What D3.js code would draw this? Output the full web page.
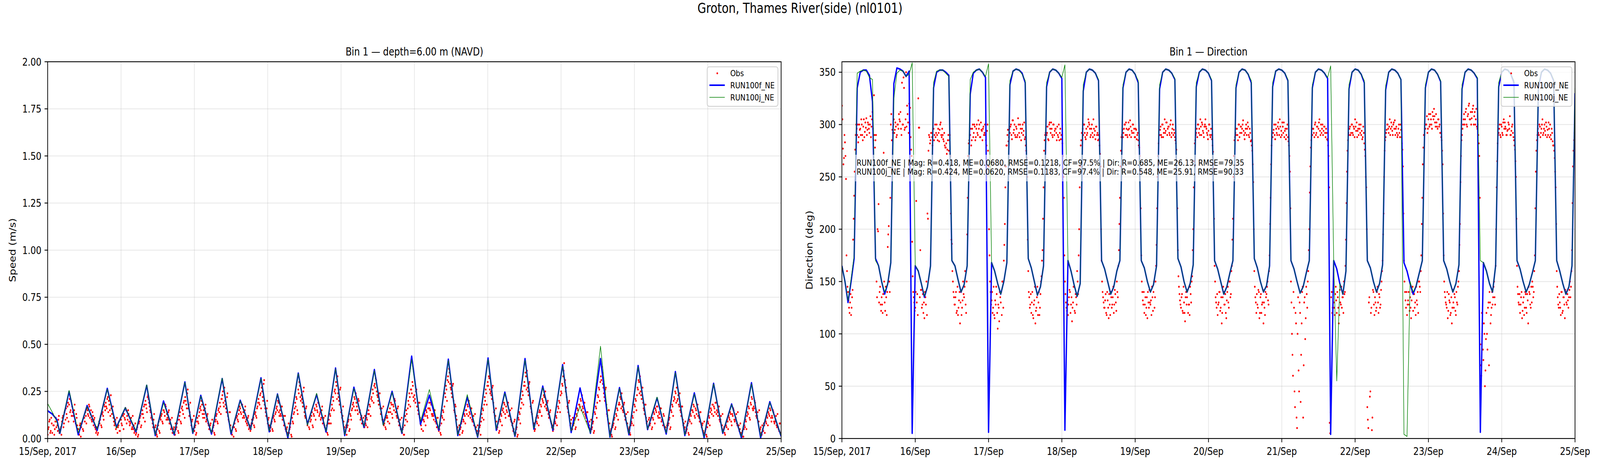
<!DOCTYPE html>
<html><head><meta charset="utf-8">
<script src="https://cdn.jsdelivr.net/npm/d3@7"></script>
<style>html,body{margin:0;padding:0;overflow:hidden;background:#fff}svg{display:block;width:100vw;height:100vh}text{font-family:"DejaVu Sans",sans-serif;fill:#000}</style>
</head><body>
<svg id="chart" viewBox="0 0 5000 1200" preserveAspectRatio="none"></svg>
<script>
const figTitle = "Groton, Thames River(side) (nl0101)";
const panelTitles = ["Bin 1 — depth=6.00 m (NAVD)", "Bin 1 — Direction"];
const yLabels = ["Speed (m/s)", "Direction (deg)"];
const seriesNames = ["Obs", "RUN100f_NE", "RUN100j_NE"];
const dayTickLabels = ["15/Sep, 2017","16/Sep","17/Sep","18/Sep","19/Sep","20/Sep","21/Sep","22/Sep","23/Sep","24/Sep","25/Sep"];
const speedTicks = [0,0.25,0.5,0.75,1,1.25,1.5,1.75,2];
const dirTicks = [0,50,100,150,200,250,300,350];
const statsLines = [
  "RUN100f_NE | Mag: R=0.418, ME=0.0680, RMSE=0.1218, CF=97.5% | Dir: R=0.685, ME=26.13, RMSE=79.35",
  "RUN100j_NE | Mag: R=0.424, ME=0.0620, RMSE=0.1183, CF=97.4% | Dir: R=0.548, ME=25.91, RMSE=90.33"
];

// model speed polyline vertices (hours since 15 Sep 00:00)
const speedHours = [0,1.5,3,4,7,10,12.9,16.2,19.5,22.5,25.4,28.9,32.4,35.2,37.9,41.4,44.9,47.5,50.1,53.6,
  57.1,60,63,66.4,69.8,72.5,75.2,78.6,82,85,88,91.1,94.2,97.2,100.2,103.5,106.9,109.8,112.7,115.9,
  119.1,122,124.9,128,131.1,134.2,137.3,140.7,144.1,146.8,149.6,152.9,156.2,159.1,162,165.3,168.5,171.3,174.2,177.6,
  180.9,184,187.1,190.2,193.2,196.3,199.4,202.4,205.4,208.5,211.6,214.8,217.9,220.9,223.8,227,230.3,233.3,236.3,240];
const speedF = [0.147,0.13,0.10,0.028,0.25,0.02,0.175,0.044,0.266,0.06,0.163,0.036,0.282,0.016,0.199,0.02,0.30,0.028,0.229,0.024,
  0.318,0.024,0.203,0.05,0.322,0.036,0.236,0.004,0.347,0.075,0.234,0.035,0.374,0.016,0.272,0.06,0.366,0.075,0.25,0.028,
  0.437,0.075,0.23,0.044,0.421,0.016,0.22,0.008,0.427,0.044,0.246,0.012,0.424,0.05,0.278,0.044,0.392,0.032,0.268,0.028,
  0.424,0.008,0.27,0.02,0.387,0.048,0.216,0.024,0.355,0.016,0.242,0.004,0.293,0.028,0.183,0.004,0.296,0.004,0.195,0.012];
const speedJ = [0.185,0.14,0.09,0.03,0.255,0.03,0.17,0.05,0.262,0.055,0.165,0.04,0.285,0.02,0.19,0.025,0.298,0.03,0.225,0.03,
  0.32,0.03,0.2,0.05,0.318,0.04,0.235,0.01,0.345,0.07,0.24,0.04,0.37,0.02,0.265,0.065,0.36,0.07,0.245,0.03,
  0.42,0.09,0.26,0.05,0.415,0.02,0.233,0.01,0.42,0.05,0.24,0.015,0.415,0.055,0.27,0.05,0.385,0.04,0.17,0.03,
  0.49,0.01,0.265,0.025,0.38,0.05,0.22,0.03,0.35,0.02,0.235,0.01,0.29,0.03,0.18,0.01,0.29,0.01,0.19,0.015];

// observed speed, every 20 minutes from 15 Sep 00:00
const obsSpeedA = [
.02,.06,.10,.04,.08,.13,.07,.05,.11,.09,.04,.12,.03,.06,.09,.12,.08,.15,.16,.11,.19,.18,.14,.20,.17,.12,.15,.10,.13,.07,
.05,.02,.08,.06,.09,.04,.11,.14,.08,.15,.12,.17,.13,.10,.14,.07,.11,.05,.04,.02,.07,.08,.12,.06,.14,.10,.17,.19,.16,.22,
.20,.15,.23,.13,.17,.09,.08,.05,.11,.06,.09,.04,.10,.07,.12,.13,.10,.15,.12,.15,.09,.08,.11,.06,.05,.03,.08,.03,.06,.02,
.09,.12,.07,.15,.11,.18,.20,.16,.22,.21,.17,.14,.12,.08,.10,.04,.07,.02,.05,.09,.03,.10,.13,.08,.15,.12,.17,.13,.10,.15,
.08,.05,.11,.03,.06,.02,.05,.08,.04,.10,.14,.08,.17,.13,.20,.22,.18,.24,.16,.12,.19,.07,.10,.05,.04,.07,.03,.11,.08,.14,
.17,.20,.13,.15,.11,.18,.10,.13,.07,.05,.08,.03,.04,.07,.02,.10,.13,.08,.16,.19,.13,.21,.25,.17,.20,.16,.22,.12,.09,.14,
.04,.02,.06,.06,.10,.04,.12,.09,.15,.16,.13,.18,.14,.11,.17,.10,.07,.12,.06,.04,.08,.08,.11,.06,.14,.11,.17,.21,.18,.24,
.27,.22,.29,.18,.14,.16,.08,.11,.06,.06,.09,.04,.12,.09,.14,.17,.20,.14,.15,.12,.17,.10,.07,.12,.04,.06,.02,.03,.06,.02,
.11,.08,.14,.19,.22,.15,.26,.30,.22,.23,.19,.25,.14,.11,.17,.07,.09,.05,.09,.12,.07,.13,.16,.10,.17,.14,.19,.13,.10,.15,
.08,.11,.06,.04,.07,.02,.10,.13,.08,.18,.22,.15,.26,.30,.21,.24,.20,.26,.14,.11,.17,.05,.03,.07,.06,.09,.04,.13,.10,.16,
.19,.22,.15,.19,.15,.21,.14,.10,.12,.08,.11,.06,.08,.11,.06,.15,.18,.12,.22,.26,.19,.29,.32,.25,.22,.18,.24,.13,.16,.10,
.07,.10,.05,.12,.09,.14,.16,.19,.13,.18,.15,.20,.14,.11,.17,.07,.10,.05,.03,.06,.02,.12,.15,.09,.20,.24,.17,.26,.30,.22,
.23,.19,.26,.17,.13,.19,.08,.05,.10,.10,.13,.07,.14,.11,.16,.16,.19,.13,.13,.10,.15,.09,.06,.11,.04,.07,.02,.12,.15,.10,
.24,.28,.20,.33,.37,.29,.26,.22,.29,.15,.18,.12,.05,.03,.07,.05,.08,.03,.10,.13,.08,.15,.18,.12,.14,.11,.16,.09,.12,.07,
.05,.03,.07,.03,.06,.02,.13,.16,.10,.22,.26,.18,.30,.33,.26,.25,.21,.28,.14,.11,.16,.05,.08,.03,.10,.13,.07,.16,.19,.13,
.17,.14,.19,.12,.15,.09,.07,.04,.09,.02,.05,.01,.11,.14,.08,.21,.25,.18,.30,.35,.26,.27,.23,.30,.17,.14,.19,.07,.04,.09,
.09,.12,.07,.15,.18,.12,.20,.23,.17,.18,.15,.20,.11,.14,.09,.06,.04,.08,.09,.12,.07,.17,.20,.14,.25,.29,.33,.40,.31,.27,
.17,.14,.20,.07,.10,.05,.07,.10,.05,.13,.16,.10,.18,.21,.15,.17,.14,.19,.12,.09,.14,.06,.09,.04,.05,.08,.03,.14,.17,.11,
.23,.27,.20,.33,.38,.29,.24,.20,.27,.13,.10,.15,.03,.05,.01,.07,.10,.05,.13,.16,.10,.19,.22,.16,.17,.14,.19,.10,.13,.08,
.04,.06,.02,.09,.12,.07,.18,.21,.15,.27,.31,.24,.25,.21,.27,.16,.13,.18,.08,.05,.10,.07,.10,.05,.11,.14,.08,.15,.17,.12,
.14,.11,.16,.10,.07,.12,.05,.03,.07,.07,.10,.05,.15,.18,.12,.22,.25,.19,.20,.23,.17,.15,.12,.17,.07,.05,.09,.04,.07,.03,
.10,.13,.08,.15,.18,.12,.16,.13,.18,.12,.09,.14,.06,.08,.03,.03,.05,.01,.09,.12,.07,.16,.13,.18,.17,.14,.19,.15,.12,.17,
.09,.12,.07,.04,.06,.02,.07,.10,.05,.11,.14,.09,.13,.16,.10,.10,.13,.07,.06,.04,.08,.02,.04,.01,.07,.10,.05,.14,.17,.11,
.19,.22,.16,.17,.20,.14,.11,.14,.09,.04,.06,.02,.05,.08,.03,.09,.12,.07,.13,.16,.11,.12,.15,.09,.09,.12,.06,.06,.04,.08];
// observed speed, every 20 minutes from 15 Sep 00:10
const obsSpeedB = [
.05,.09,.03,.11,.03,.07,.02,.09,.06,.07,.10,.03,.05,.02,.11,.06,.14,.10,.13,.17,.09,.21,.15,.12,.14,.09,.18,.08,.11,.05,
.03,.07,.01,.08,.05,.11,.09,.12,.16,.13,.18,.11,.15,.09,.12,.10,.06,.03,.06,.03,.09,.10,.07,.13,.12,.18,.15,.17,.21,.14,
.18,.12,.16,.15,.11,.07,.10,.06,.03,.07,.04,.10,.08,.13,.05,.11,.16,.08,.10,.13,.07,.09,.05,.12,.07,.04,.02,.05,.01,.08,
.11,.06,.13,.13,.17,.09,.18,.14,.23,.19,.15,.11,.10,.06,.13,.06,.03,.01,.07,.04,.11,.12,.09,.15,.14,.18,.10,.11,.14,.08,
.10,.06,.03,.05,.02,.08,.06,.10,.03,.12,.09,.16,.15,.19,.11,.20,.16,.26,.18,.14,.10,.09,.05,.12,.06,.02,.09,.09,.12,.16,
.15,.18,.11,.13,.16,.09,.12,.08,.05,.07,.04,.10,.06,.03,.09,.12,.09,.15,.14,.17,.21,.23,.19,.27,.18,.14,.24,.10,.14,.07,
.03,.06,.01,.08,.05,.11,.10,.13,.17,.14,.18,.11,.12,.15,.09,.08,.11,.05,.07,.05,.10,.10,.07,.13,.12,.16,.19,.19,.23,.16,
.25,.20,.31,.16,.12,.20,.10,.07,.04,.08,.05,.11,.10,.13,.16,.15,.19,.12,.13,.17,.10,.12,.08,.05,.05,.03,.08,.05,.08,.01,
.09,.13,.16,.17,.21,.13,.24,.28,.20,.21,.17,.27,.12,.16,.09,.09,.06,.11,.10,.14,.06,.12,.15,.18,.15,.19,.12,.14,.11,.17,
.10,.07,.12,.05,.03,.08,.08,.12,.15,.16,.20,.25,.24,.28,.33,.22,.18,.27,.15,.12,.09,.06,.04,.02,.07,.10,.05,.12,.15,.18,
.17,.21,.24,.17,.13,.20,.15,.11,.08,.09,.06,.12,.07,.10,.13,.13,.17,.21,.20,.24,.28,.27,.31,.23,.20,.24,.16,.14,.10,.17,
.08,.06,.11,.11,.14,.08,.14,.18,.11,.17,.21,.14,.12,.16,.09,.08,.05,.11,.05,.02,.07,.10,.13,.16,.18,.22,.26,.24,.28,.20,
.21,.25,.17,.15,.19,.11,.07,.10,.04,.09,.12,.15,.12,.16,.19,.15,.18,.12,.12,.15,.09,.08,.11,.05,.05,.03,.08,.11,.14,.17,
.22,.26,.31,.30,.35,.27,.24,.28,.20,.14,.17,.10,.06,.04,.02,.06,.09,.04,.09,.12,.15,.13,.17,.20,.13,.16,.10,.10,.07,.13,
.06,.04,.02,.04,.07,.09,.11,.15,.18,.20,.24,.28,.28,.32,.24,.23,.27,.19,.15,.12,.09,.06,.09,.04,.09,.12,.15,.14,.18,.11,
.15,.18,.12,.13,.10,.16,.08,.05,.10,.03,.06,.02,.10,.13,.16,.19,.23,.28,.28,.33,.36,.25,.29,.21,.16,.13,.20,.08,.05,.11,
.08,.11,.14,.14,.17,.21,.19,.22,.25,.16,.19,.13,.12,.15,.08,.07,.05,.10,.08,.11,.14,.16,.19,.23,.24,.28,.36,.30,.25,.22,
.16,.19,.12,.08,.05,.11,.08,.11,.06,.12,.15,.18,.17,.20,.23,.16,.19,.13,.11,.14,.08,.07,.05,.10,.06,.09,.04,.13,.16,.19,
.22,.26,.30,.31,.35,.27,.22,.26,.18,.12,.15,.08,.04,.02,.06,.08,.11,.06,.12,.15,.18,.18,.21,.24,.15,.18,.12,.11,.08,.14,
.05,.03,.07,.08,.11,.14,.17,.20,.23,.26,.30,.33,.23,.27,.19,.15,.18,.11,.09,.06,.11,.08,.11,.06,.10,.13,.16,.14,.17,.11,
.13,.16,.09,.10,.13,.06,.06,.04,.08,.08,.11,.06,.14,.17,.20,.21,.24,.27,.21,.18,.24,.14,.17,.10,.08,.06,.03,.05,.08,.02,
.09,.12,.15,.14,.17,.11,.15,.18,.12,.11,.14,.08,.07,.04,.09,.04,.02,.06,.08,.11,.14,.15,.18,.12,.16,.19,.13,.14,.17,.10,
.10,.07,.13,.05,.03,.07,.06,.09,.12,.10,.13,.07,.12,.15,.09,.11,.08,.14,.07,.05,.03,.03,.01,.05,.06,.09,.12,.13,.16,.10,
.18,.21,.15,.16,.19,.12,.12,.09,.15,.05,.03,.07,.04,.07,.10,.08,.11,.14,.12,.15,.09,.11,.14,.08,.10,.07,.13,.05,.08,.03];

// model direction, hourly from 15 Sep 00:00
const dirF = [165,150,130,150,172,335,350,352,352,347,
322,172,165,150,138,148,168,339,354,353,
351,346,351,5,165,160,148,135,145,165,
335,350,352,352,350,347,170,165,152,140,
147,165,329,349,352,353,350,345,6,168,
160,148,138,150,168,338,351,353,352,349,
340,172,163,150,137,145,165,336,350,353,
352,349,344,8,170,160,147,136,148,332,
350,353,352,349,342,170,162,150,138,145,
160,170,335,350,353,352,348,340,170,163,
150,140,147,165,334,350,353,352,349,343,
172,164,150,140,148,166,336,350,353,352,
349,342,170,162,150,138,145,158,170,335,
350,353,352,348,340,172,163,150,140,146,
165,336,351,353,352,349,342,170,162,150,
139,145,158,170,335,350,353,352,349,344,
4,170,162,148,138,160,334,350,353,352,
348,340,170,163,150,140,148,166,333,350,
353,352,349,343,168,160,148,138,146,158,
170,335,350,353,352,348,341,170,162,150,
140,148,166,334,350,353,352,349,344,6,
168,160,148,140,165,336,350,353,352,348,
340,170,162,150,140,147,158,170,335,350,
353,352,349,342,170,160,148,138,145,165,
330];
const dirJ = [165,150,132,152,175,349,351,352,351,345,
343,170,165,150,140,148,168,325,349,352,
351,346,348,359,165,160,148,136,145,165,
340,351,352,352,349,346,170,165,152,140,
147,165,343,350,352,353,350,346,358,168,
160,148,138,150,168,342,351,353,352,348,
342,172,163,150,137,145,165,340,350,353,
352,349,345,357,170,160,147,136,148,338,
350,353,352,349,343,170,162,150,138,145,
160,170,338,350,353,352,348,342,170,163,
150,140,147,165,338,350,353,352,349,344,
172,164,150,140,148,166,340,350,353,352,
349,343,170,162,150,138,145,158,170,338,
350,353,352,348,342,172,163,150,140,146,
165,340,351,353,352,349,343,170,162,150,
139,145,158,170,338,350,353,352,349,345,
356,168,55,148,138,160,338,350,353,352,
348,342,170,163,150,140,148,166,337,350,
353,352,349,343,4,2,150,140,146,158,
170,338,350,353,352,348,342,170,162,150,
140,148,166,338,350,353,352,349,345,170,
168,160,148,140,165,340,350,353,352,348,
342,170,162,150,140,147,158,170,338,350,
353,352,349,343,170,160,148,138,145,165,
335];

// observed direction, every 20 minutes from 15 Sep 00:00
const obsDirA = [
318,277,268,283,248,160,140,125,130,118,135,190,232,276,300,290,283,300,296,305,290,298,288,302,306,295,300,292,308,298,
312,285,290,285,150,200,224,140,128,135,120,273,130,145,118,183,203,140,300,285,292,305,295,298,290,300,310,303,296,340,
300,335,297,350,318,302,320,316,276,188,140,130,125,227,138,325,297,180,142,128,120,115,135,150,215,275,288,285,292,280,
296,290,288,300,285,292,295,302,288,290,284,280,278,272,285,275,290,215,186,150,135,128,140,122,118,132,110,140,125,150,
135,160,120,195,270,285,290,280,296,288,300,285,296,292,304,300,288,295,285,298,292,290,280,300,260,175,140,132,120,145,
115,128,138,105,125,140,130,118,150,170,205,260,280,295,288,292,300,286,304,295,290,298,288,306,292,300,285,296,290,302,
288,275,250,160,135,128,120,140,115,132,110,125,145,130,118,138,155,180,240,285,292,290,298,285,302,292,296,288,300,294,
296,285,290,300,292,286,290,270,230,150,130,122,118,135,140,128,112,130,145,120,135,160,138,200,260,285,292,290,300,288,
296,292,305,300,288,296,292,305,290,286,298,292,290,280,260,170,140,130,125,138,118,132,115,128,140,125,135,120,142,130,
150,135,180,230,275,290,288,296,300,302,290,295,296,304,288,292,300,296,288,295,290,285,278,255,175,140,128,120,135,125,
115,130,142,128,118,135,140,125,150,185,250,282,290,298,288,300,292,305,294,302,296,298,290,304,292,300,295,288,282,265,
180,145,132,125,138,120,130,112,140,135,120,128,145,130,155,200,265,285,292,288,300,296,305,290,300,292,298,305,296,290,
294,300,288,290,280,258,165,135,125,118,130,140,125,110,135,140,128,120,132,145,125,150,138,165,210,270,288,290,296,285,
300,292,298,296,304,290,292,300,296,298,288,292,285,275,245,160,135,120,128,142,115,135,120,130,110,125,140,138,150,128,
175,230,280,288,295,290,300,292,298,296,305,288,290,298,302,294,286,296,288,280,255,150,100,60,125,30,110,10,135,45,
120,80,140,20,130,95,145,125,160,200,260,285,290,296,288,302,292,298,296,305,290,292,300,294,298,288,292,285,270,15,
25,140,125,130,118,145,120,135,110,142,128,125,135,150,140,190,255,285,290,298,292,300,290,296,305,294,288,296,300,292,
290,286,298,282,270,240,30,10,135,45,125,20,140,118,130,125,145,120,135,128,150,170,215,275,288,295,300,292,305,296,
298,290,302,304,296,292,290,300,288,295,282,260,170,140,125,118,132,128,135,115,140,122,138,130,145,128,120,150,140,175,
230,278,290,296,300,292,305,298,310,300,312,305,308,298,302,296,305,300,292,285,262,175,140,130,125,115,138,130,120,110,
142,125,135,118,130,145,160,205,270,290,300,310,305,315,298,310,320,305,300,312,318,308,300,315,296,290,270,90,60,110,
75,100,65,120,85,130,140,110,125,128,145,135,165,240,282,292,300,288,298,290,305,302,296,290,295,300,308,290,298,292,
285,276,250,165,138,128,120,135,115,130,118,140,125,138,110,140,128,145,150,135,160,220,275,290,292,300,288,296,305,292,
300,290,298,295,302,288,290,296,284,280,268,240,160,135,125,130,118,140,122,135,115,140,128,132,135,150,145,180,260,285];
// observed direction, every 20 minutes from 15 Sep 00:10
const obsDirB = [
305,262,290,270,175,145,132,120,138,125,142,210,255,290,296,300,288,295,290,300,285,305,293,297,290,302,296,300,288,305,
296,328,278,290,135,198,130,145,122,128,138,150,122,135,140,195,150,230,310,295,300,292,302,288,300,296,305,312,290,300,
345,295,305,298,310,292,300,288,270,155,135,122,140,130,118,297,135,142,125,138,130,140,128,118,210,290,282,292,288,296,
285,300,292,290,296,284,300,290,296,286,292,278,282,276,290,285,270,190,160,140,128,135,120,145,125,140,130,118,132,138,
145,128,150,230,282,290,296,285,300,292,298,288,300,290,296,288,302,294,296,290,300,285,294,275,200,150,128,140,125,118,
132,145,120,128,112,135,140,150,125,185,240,280,290,284,296,298,290,304,292,300,288,296,290,300,288,296,292,300,294,286,
280,268,190,140,125,138,130,118,128,145,122,135,118,140,125,150,170,210,275,290,298,292,286,300,296,302,290,300,290,296,
292,298,288,285,296,290,282,250,175,138,125,132,128,142,120,135,125,145,122,138,128,150,175,240,280,292,296,300,292,286,
290,298,302,296,290,300,288,296,294,298,290,285,286,272,200,150,135,125,132,120,140,125,138,118,135,128,145,128,138,122,
140,165,205,260,288,295,292,300,290,296,288,302,290,298,294,300,292,288,296,286,292,280,270,220,150,132,140,128,118,135,
140,125,130,132,145,122,150,135,165,220,270,290,295,290,300,288,296,292,302,290,298,292,300,288,296,290,292,285,276,220,
155,138,128,135,122,145,120,135,128,142,128,118,138,150,180,240,282,290,296,300,292,290,298,302,294,288,300,298,292,286,
300,290,296,286,274,210,150,130,138,128,140,122,135,120,145,128,138,115,140,130,150,135,160,190,250,285,292,296,290,300,
288,298,292,300,294,286,296,290,302,290,296,284,280,262,200,145,130,138,125,140,120,138,128,142,130,118,135,145,132,160,
205,262,288,292,300,286,296,290,302,290,298,294,302,292,288,296,290,300,284,270,220,130,80,140,45,120,20,100,65,130,
35,110,145,70,135,115,138,150,180,235,278,290,296,292,300,290,298,288,302,294,300,296,290,298,292,296,286,280,240,5,
135,120,140,125,138,132,140,125,118,130,145,135,120,138,165,225,275,292,296,290,300,292,298,288,298,302,294,290,296,300,
294,288,292,276,250,200,18,130,40,120,8,142,128,135,122,140,130,138,125,142,160,195,250,285,292,300,296,298,290,302,
294,300,296,290,298,288,296,292,300,288,276,215,150,132,140,128,140,122,125,132,145,138,125,118,132,140,150,145,160,205,
262,290,296,300,308,296,310,300,305,296,308,315,302,310,298,305,298,292,288,275,215,150,135,128,140,122,132,118,135,125,
130,138,122,140,128,150,185,245,285,296,305,300,312,300,308,318,305,312,306,315,300,312,305,298,300,282,230,70,120,85,
110,50,95,100,125,70,130,118,140,135,150,128,200,265,290,296,290,300,292,302,296,298,290,294,302,296,290,294,300,288,
280,265,210,145,130,138,128,140,122,135,125,138,120,132,145,138,125,130,145,140,175,255,285,296,290,298,292,300,290,296,
294,302,288,290,296,300,286,292,280,275,255,205,145,128,138,125,140,120,135,128,142,130,138,125,142,135,160,225,275,292];

const T0 = Date.UTC(2017, 8, 15);
const HOUR = 3600e3;
const toDate = h => new Date(T0 + h * HOUR);

const svg = d3.select("#chart");
const yTop = 158, yBot = 1122;
const obsPoints = (a, b) => a.map((v, i) => [i / 3, v]).concat(b.map((v, i) => [i / 3 + 1 / 6, v]));
const panels = [
  {x0: 149, x1: 2441, yMax: 2, ticks: speedTicks, fmt: d3.format(".2f"), title: panelTitles[0], ylabel: yLabels[0], ylabX: 49,
   obs: obsPoints(obsSpeedA, obsSpeedB), mF: speedHours.map((h, i) => [h, speedF[i]]), mJ: speedHours.map((h, i) => [h, speedJ[i]])},
  {x0: 2631, x1: 4922, yMax: 360, ticks: dirTicks, fmt: d3.format("d"), title: panelTitles[1], ylabel: yLabels[1], ylabX: 2539,
   obs: obsPoints(obsDirA, obsDirB), mF: dirF.map((v, i) => [i, v]), mJ: dirJ.map((v, i) => [i, v])}
];

svg.append("text").attr("x", 2500).attr("y", 33).attr("text-anchor", "middle")
  .style("font-size", "35px").text(figTitle);

panels.forEach((p, pi) => {
  const x = d3.scaleUtc().domain([toDate(0), toDate(240)]).range([p.x0, p.x1]);
  const y = d3.scaleLinear().domain([0, p.yMax]).range([yBot, yTop]);
  const g = svg.append("g");
  const clipId = "clip" + pi;
  svg.append("clipPath").attr("id", clipId).append("rect")
    .attr("x", p.x0).attr("y", yTop).attr("width", p.x1 - p.x0).attr("height", yBot - yTop);

  const days = d3.utcDay.range(toDate(0), toDate(240.01));
  g.append("g").selectAll("line").data(days).join("line")
    .attr("x1", d => x(d)).attr("x2", d => x(d)).attr("y1", yTop).attr("y2", yBot)
    .attr("stroke", "#b0b0b0").attr("stroke-opacity", 0.3).attr("stroke-width", 2.2);
  g.append("g").selectAll("line").data(p.ticks).join("line")
    .attr("x1", p.x0).attr("x2", p.x1).attr("y1", d => y(d)).attr("y2", d => y(d))
    .attr("stroke", "#b0b0b0").attr("stroke-opacity", 0.3).attr("stroke-width", 2.2);

  const plot = g.append("g").attr("clip-path", `url(#${clipId})`);
  plot.append("g").selectAll("circle").data(p.obs).join("circle")
    .attr("cx", d => x(toDate(d[0]))).attr("cy", d => y(d[1])).attr("r", 2.6).attr("fill", "#ff0000");
  const line = d3.line().x(d => x(toDate(d[0]))).y(d => y(d[1]));
  plot.append("path").attr("d", line(p.mF)).attr("fill", "none").attr("stroke", "#0000ff")
    .attr("stroke-width", 4.2).attr("stroke-linejoin", "round");
  plot.append("path").attr("d", line(p.mJ)).attr("fill", "none").attr("stroke", "#008000")
    .attr("stroke-width", 1.7).attr("stroke-linejoin", "round");

  g.append("rect").attr("x", p.x0).attr("y", yTop).attr("width", p.x1 - p.x0).attr("height", yBot - yTop)
    .attr("fill", "none").attr("stroke", "#000").attr("stroke-width", 2.2);

  const xt = g.append("g").selectAll("g").data(days).join("g");
  xt.append("line").attr("x1", d => x(d)).attr("x2", d => x(d)).attr("y1", yBot).attr("y2", yBot + 9.7)
    .attr("stroke", "#000").attr("stroke-width", 2.2);
  xt.append("text").attr("x", d => x(d)).attr("y", 1164).attr("text-anchor", "middle")
    .style("font-size", "27px").text((d, i) => dayTickLabels[i]);
  const yt = g.append("g").selectAll("g").data(p.ticks).join("g");
  yt.append("line").attr("x1", p.x0 - 9.7).attr("x2", p.x0).attr("y1", d => y(d)).attr("y2", d => y(d))
    .attr("stroke", "#000").attr("stroke-width", 2.2);
  yt.append("text").attr("x", p.x0 - 19.4).attr("y", d => y(d)).attr("dy", "0.36em").attr("text-anchor", "end")
    .style("font-size", "27px").text(d => p.fmt(d));

  g.append("text").attr("x", (p.x0 + p.x1) / 2).attr("y", 142).attr("text-anchor", "middle")
    .style("font-size", "28px").text(p.title);
  g.append("text").attr("transform", `translate(${p.ylabX},${(yTop + yBot) / 2}) rotate(-90)`)
    .attr("text-anchor", "middle").style("font-size", "27px").text(p.ylabel);

  const lx = p.x1 - 231, ly = 171;
  const lg = g.append("g");
  lg.append("rect").attr("x", lx).attr("y", ly).attr("width", 221).attr("height", 101).attr("rx", 6)
    .attr("fill", "#fff").attr("fill-opacity", 0.8).attr("stroke", "#cccccc").attr("stroke-width", 2.2);
  lg.append("circle").attr("cx", lx + 31.5).attr("cy", ly + 16.5).attr("r", 2.6).attr("fill", "#ff0000");
  lg.append("line").attr("x1", lx + 7).attr("x2", lx + 55).attr("y1", ly + 47).attr("y2", ly + 47)
    .attr("stroke", "#0000ff").attr("stroke-width", 4.2);
  lg.append("line").attr("x1", lx + 7).attr("x2", lx + 55).attr("y1", ly + 78).attr("y2", ly + 78)
    .attr("stroke", "#008000").attr("stroke-width", 1.7);
  lg.selectAll("text").data(seriesNames).join("text")
    .attr("x", lx + 72).attr("y", (d, i) => ly + 24.5 + i * 30.7).style("font-size", "22px").text(d => d);

  if (pi === 1) {
    const ag = g.append("g");
    const rect = ag.append("rect");
    const tx = ag.append("text").style("font-size", "22px");
    statsLines.forEach((s, i) => tx.append("tspan").attr("x", p.x0 + 46).attr("y", 424 + i * 23.5).text(s));
    const bb = tx.node().getBBox();
    rect.attr("x", bb.x - 5).attr("y", 396).attr("width", bb.width + 10).attr("height", 68)
      .attr("fill", "#fff").attr("fill-opacity", 0.6);
  }
});
</script>
</body></html>
